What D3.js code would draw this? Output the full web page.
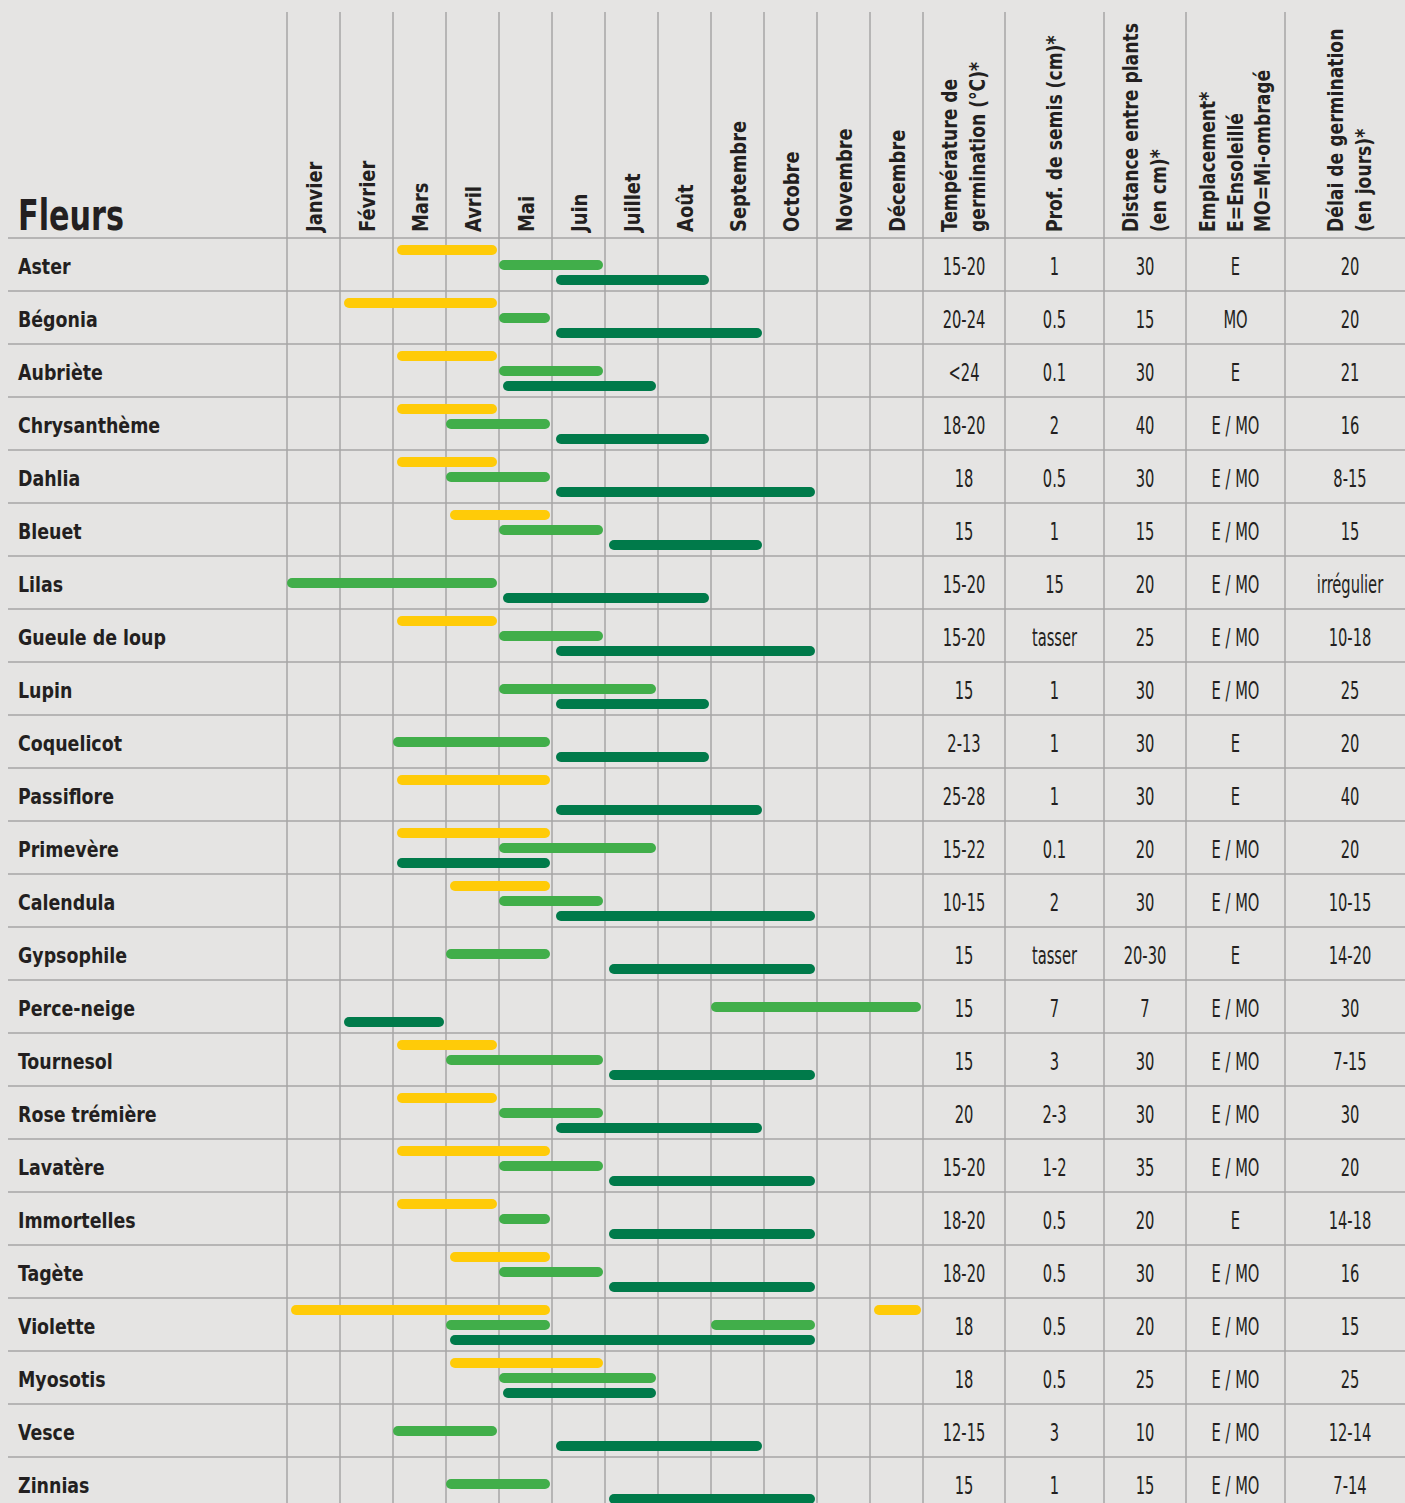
<!DOCTYPE html>
<html>
<head>
<meta charset="utf-8">
<script src="https://cdn.jsdelivr.net/npm/d3@7"></script>
<style>
  body { margin: 0; background: #e5e4e3; }
  svg text { fill: #231f20; font-family: "DejaVu Sans Condensed", "DejaVu Sans", sans-serif; font-stretch: condensed; }
</style>
</head>
<body>
<div id="chart"></div>
<script>
// chart values
var months = ["Janvier", "Février", "Mars", "Avril", "Mai", "Juin", "Juillet", "Août", "Septembre", "Octobre", "Novembre", "Décembre"];

var flowers = ["Aster", "Bégonia", "Aubriète", "Chrysanthème", "Dahlia", "Bleuet", "Lilas", "Gueule de loup", "Lupin", "Coquelicot",
  "Passiflore", "Primevère", "Calendula", "Gypsophile", "Perce-neige", "Tournesol", "Rose trémière", "Lavatère", "Immortelles",
  "Tagète", "Violette", "Myosotis", "Vesce", "Zinnias"];

var temperature = ["15-20", "20-24", "<24", "18-20", "18", "15", "15-20", "15-20", "15", "2-13", "25-28", "15-22", "10-15", "15",
  "15", "15", "20", "15-20", "18-20", "18-20", "18", "18", "12-15", "15"];
var profondeur = ["1", "0.5", "0.1", "2", "0.5", "1", "15", "tasser", "1", "1", "1", "0.1", "2", "tasser", "7", "3", "2-3", "1-2",
  "0.5", "0.5", "0.5", "0.5", "3", "1"];
var distance = ["30", "15", "30", "40", "30", "15", "20", "25", "30", "30", "30", "20", "30", "20-30", "7", "30", "30", "35", "20",
  "30", "20", "25", "10", "15"];
var emplacement = ["E", "MO", "E", "E / MO", "E / MO", "E / MO", "E / MO", "E / MO", "E / MO", "E", "E", "E / MO", "E / MO", "E",
  "E / MO", "E / MO", "E / MO", "E / MO", "E", "E / MO", "E / MO", "E / MO", "E / MO", "E / MO"];
var delai = ["20", "20", "21", "16", "8-15", "15", "irrégulier", "10-18", "25", "20", "40", "20", "10-15", "14-20", "30", "7-15",
  "30", "20", "14-18", "16", "15", "25", "12-14", "7-14"];

// month ranges [first, last] for each flower
var jaune = [[[3, 4]], [[2, 4]], [[3, 4]], [[3, 4]], [[3, 4]], [[4, 5]], [], [[3, 4]], [], [], [[3, 5]], [[3, 5]], [[4, 5]], [], [],
  [[3, 4]], [[3, 4]], [[3, 5]], [[3, 4]], [[4, 5]], [[1, 5], [12, 12]], [[4, 6]], [], []];
var vertClair = [[[5, 6]], [[5, 5]], [[5, 6]], [[4, 5]], [[4, 5]], [[5, 6]], [[1, 4]], [[5, 6]], [[5, 7]], [[3, 5]], [], [[5, 7]],
  [[5, 6]], [[4, 5]], [[9, 12]], [[4, 6]], [[5, 6]], [[5, 6]], [[5, 5]], [[5, 6]], [[4, 5], [9, 10]], [[5, 7]], [[3, 4]], [[4, 5]]];
var vertFonce = [[[6, 8]], [[6, 9]], [[5, 7]], [[6, 8]], [[6, 10]], [[7, 9]], [[5, 8]], [[6, 10]], [[6, 8]], [[6, 8]], [[6, 9]],
  [[3, 5]], [[6, 10]], [[7, 10]], [[2, 3]], [[7, 10]], [[6, 9]], [[7, 10]], [[7, 10]], [[7, 10]], [[4, 10]], [[5, 7]], [[6, 9]], [[7, 10]]];

var headers = [
  ["Température de", "germination (°C)*"],
  ["Prof. de semis (cm)*"],
  ["Distance entre plants", "(en cm)*"],
  ["Emplacement*", "E=Ensoleillé", "MO=Mi-ombragé"],
  ["Délai de germination", "(en jours)*"]
];
var columns = [temperature, profondeur, distance, emplacement, delai];

var svgWidth = 1405;
var svgHeight = 1503;
var headerBottom = 238;
var rowH = 53;
var gridColor = "#a6a6a6";

var svg = d3.select("#chart")
  .append("svg")
  .attr("width", svgWidth)
  .attr("height", svgHeight);

var x = d3.scaleLinear().domain([0, 12]).range([287, 923]);
var y = d3.scaleBand().domain(flowers).range([headerBottom, headerBottom + rowH * flowers.length]);
var colEdges = [923, 1005, 1104, 1186, 1285, 1415];

// grid
var vLines = d3.range(13).map(function(i) { return x(i); }).concat(colEdges.slice(1, 5));
svg.append("g").selectAll("line").data(vLines).enter().append("line")
  .attr("x1", function(d) { return d; }).attr("x2", function(d) { return d; })
  .attr("y1", 12).attr("y2", svgHeight)
  .attr("stroke", gridColor).attr("stroke-width", 1.5);

svg.append("g").selectAll("line").data(flowers).enter().append("line")
  .attr("x1", 8).attr("x2", svgWidth)
  .attr("y1", function(d) { return y(d); }).attr("y2", function(d) { return y(d); })
  .attr("stroke", gridColor).attr("stroke-width", 1.5);

// header
svg.append("text").attr("transform", "translate(18,230) scale(0.8,1)")
  .attr("font-size", 42).attr("font-weight", "bold").text("Fleurs");

svg.append("g").selectAll("text").data(months).enter().append("text")
  .attr("transform", function(d, i) { return "translate(" + ((x(i) + x(i + 1)) / 2 + 8) + ",232) rotate(-90) scale(0.95,1)"; })
  .attr("font-size", 21).attr("font-weight", "bold")
  .text(function(d) { return d; });

headers.forEach(function(lines, c) {
  var cx = (colEdges[c] + colEdges[c + 1]) / 2;
  var gap = 27.5;
  lines.forEach(function(l, k) {
    var bx = cx + 7 + (k - (lines.length - 1) / 2) * gap;
    svg.append("text")
      .attr("transform", "translate(" + bx + ",232) rotate(-90) scale(0.91,1)")
      .attr("font-size", 21).attr("font-weight", "bold")
      .text(l);
  });
});

// rows
svg.append("g").selectAll("text").data(flowers).enter().append("text")
  .attr("transform", function(d) { return "translate(18," + (y(d) + 36) + ") scale(0.88,1)"; })
  .attr("font-size", 22).attr("font-weight", "bold")
  .text(function(d) { return d; });

columns.forEach(function(vals, c) {
  var cx = (colEdges[c] + colEdges[c + 1]) / 2;
  svg.append("g").selectAll("text").data(vals).enter().append("text")
    .attr("transform", function(d, i) { return "translate(" + cx + "," + (y(flowers[i]) + 37) + ") scale(0.68,1)"; })
    .attr("text-anchor", "middle").attr("font-size", 24)
    .text(function(d) { return d; });
});

// bars
var series = [
  { data: jaune, color: "#ffcb08", slot: 0, inset: 4 },
  { data: vertClair, color: "#41ae4a", slot: 1, inset: 0 },
  { data: vertFonce, color: "#007a4a", slot: 2, inset: 4 }
];
var barH = 10;
series.forEach(function(s) {
  var items = [];
  s.data.forEach(function(ranges, i) {
    ranges.forEach(function(r) { items.push({ flower: flowers[i], start: r[0], end: r[1] }); });
  });
  svg.append("g").selectAll("rect").data(items).enter().append("rect")
    .attr("x", function(d) { return x(d.start - 1) + s.inset; })
    .attr("width", function(d) { return x(d.end) - 2 - x(d.start - 1) - s.inset; })
    .attr("y", function(d) { return y(d.flower) + 7 + s.slot * 15; })
    .attr("height", barH)
    .attr("rx", barH / 2)
    .attr("fill", s.color);
});
</script>
</body>
</html>
